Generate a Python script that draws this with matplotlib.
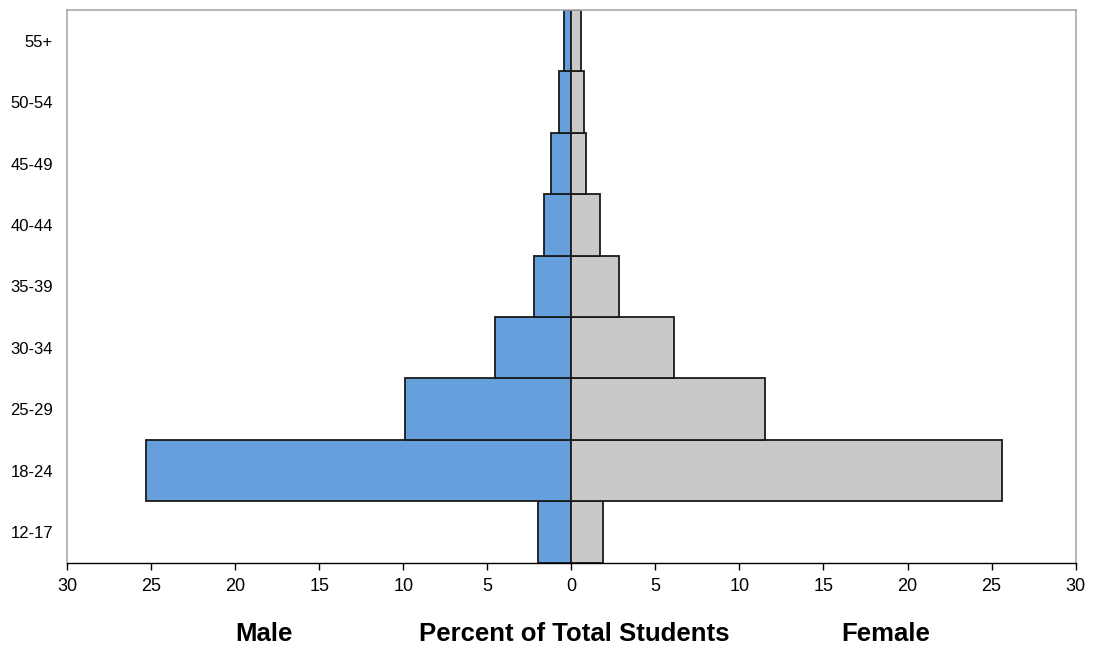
import matplotlib
matplotlib.use("Agg")
import matplotlib.pyplot as plt
import numpy as np

plt.rcParams['font.family'] = ['Liberation Sans', 'DejaVu Sans']

age_groups = ["12-17", "18-24", "25-29", "30-34", "35-39", "40-44", "45-49", "50-54", "55+"]
male = [1.98, 25.3, 9.9, 4.54, 2.24, 1.64, 1.23, 0.75, 0.42]
female = [1.88, 25.62, 11.53, 6.13, 2.84, 1.73, 0.86, 0.77, 0.56]
x_ticks = [-30, -25, -20, -15, -10, -5, 0, 5, 10, 15, 20, 25, 30]

fig = plt.figure(figsize=(11.02, 6.46), dpi=100)
ax = fig.add_axes([0.0608, 0.129, 0.9153, 0.8555])

y = np.arange(len(age_groups))
ax.barh(y, [-m for m in male], height=1.0, color="#65a0dc", edgecolor="#1a1a1a", linewidth=1.3)
ax.barh(y, female, height=1.0, color="#c9c9c9", edgecolor="#1a1a1a", linewidth=1.3)

ax.set_xlim(-30, 30)
ax.set_ylim(-0.5, len(age_groups) - 0.5)
ax.set_yticks(y)
ax.set_yticklabels(age_groups, fontsize=12)
ax.set_xticks(x_ticks)
ax.set_xticklabels([str(abs(t)) for t in x_ticks], fontsize=13)
ax.tick_params(axis="y", length=0, pad=10)
ax.tick_params(axis="x", direction="out", length=5, width=1, pad=6)

for side in ["left", "right", "top"]:
    ax.spines[side].set_color("#aaaaaa")
    ax.spines[side].set_linewidth(1.2)
ax.spines["bottom"].set_color("black")
ax.spines["bottom"].set_linewidth(1)

fig.text(264 / 1102, 1 - 634 / 646, "Male", ha="center", va="center", fontsize=18.5, fontweight="bold")
fig.text(574 / 1102, 1 - 634 / 646, "Percent of Total Students", ha="center", va="center", fontsize=18.5, fontweight="bold")
fig.text(886 / 1102, 1 - 634 / 646, "Female", ha="center", va="center", fontsize=18.5, fontweight="bold")

fig.savefig("out.png", dpi=100)
